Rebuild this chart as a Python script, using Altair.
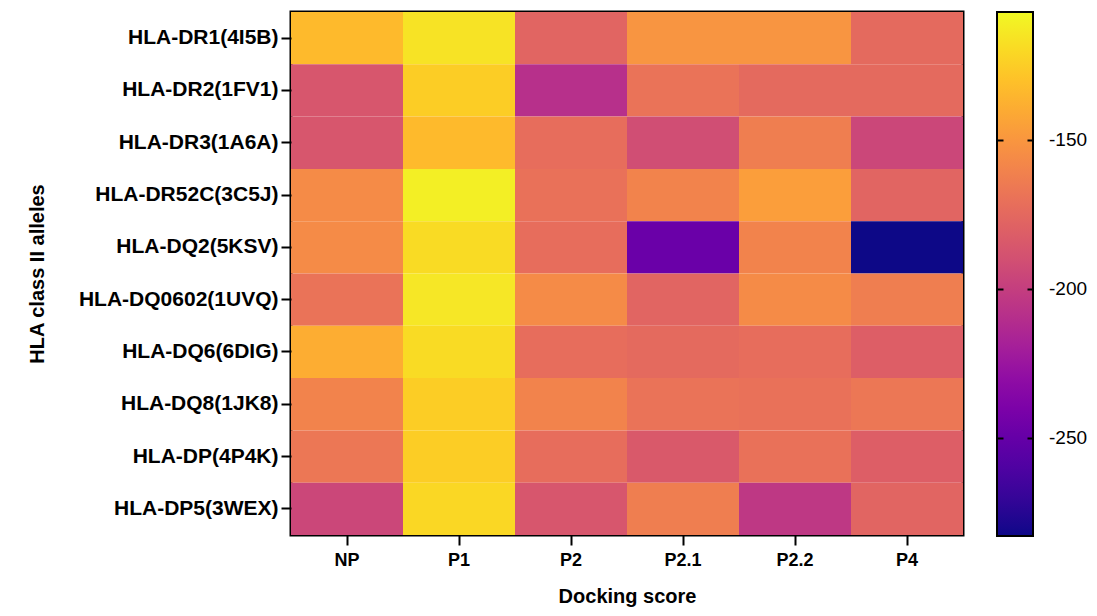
import altair as alt
import pandas as pd

alleles = ["HLA-DR1(4I5B)", "HLA-DR2(1FV1)", "HLA-DR3(1A6A)", "HLA-DR52C(3C5J)",
           "HLA-DQ2(5KSV)", "HLA-DQ0602(1UVQ)", "HLA-DQ6(6DIG)", "HLA-DQ8(1JK8)",
           "HLA-DP(4P4K)", "HLA-DP5(3WEX)"]
peptides = ["NP", "P1", "P2", "P2.1", "P2.2", "P4"]

NP   = [-133, -186, -186, -156, -156, -169, -139, -160, -167, -195]
P1   = [-116, -125, -133, -111, -119, -114, -119, -125, -125, -121]
P2   = [-177, -209, -172, -170, -172, -156, -172, -160, -172, -186]
P2_1 = [-151, -169, -191, -160, -248, -177, -174, -169, -184, -163]
P2_2 = [-151, -174, -163, -146, -160, -156, -172, -170, -170, -204]
P4   = [-174, -174, -195, -177, -283, -163, -181, -167, -181, -177]

legend_ticks = [-250, -200, -150]
color_domain = [-283, -107]

cols = [NP, P1, P2, P2_1, P2_2, P4]
rows = []
for pep, vals in zip(peptides, cols):
    for a, v in zip(alleles, vals):
        rows.append({"peptide": pep, "allele": a, "score": v})
df = pd.DataFrame(rows)
ticks_df = pd.DataFrame({"score": legend_ticks})

FONT = "Liberation Sans"
W, H = 672, 523
GRAD_X = 706
GRAD_W = 36
GRAD_LEN = 524

heat = alt.Chart(df).mark_rect().encode(
    x=alt.X("peptide:N", sort=peptides, title="Docking score",
            scale=alt.Scale(paddingInner=0, paddingOuter=0),
            axis=alt.Axis(labelAngle=0, labelFontSize=18, labelFontWeight="bold",
                          labelColor="black", labelFont=FONT, labelPadding=6,
                          titleFontSize=20, titleFontWeight="bold", titleFont=FONT,
                          titleColor="black", titlePadding=17,
                          domain=False, ticks=True, tickSize=10, tickWidth=2,
                          tickColor="black")),
    y=alt.Y("allele:N", sort=alleles, title="HLA class II alleles",
            scale=alt.Scale(paddingInner=0, paddingOuter=0),
            axis=alt.Axis(labelFontSize=21, labelFontWeight="bold", labelColor="black",
                          labelFont=FONT, labelPadding=3, labelLimit=400,
                          titleFontSize=20, titleFontWeight="bold", titleFont=FONT,
                          titleColor="black", titlePadding=44,
                          domain=False, ticks=True, tickSize=10, tickWidth=2,
                          tickColor="black")),
    color=alt.Color("score:Q",
                    scale=alt.Scale(scheme="plasma", domain=color_domain),
                    legend=alt.Legend(orient="none", legendX=GRAD_X, legendY=0,
                                      direction="vertical", title=None,
                                      gradientLength=GRAD_LEN, gradientThickness=GRAD_W,
                                      gradientStrokeColor="black", gradientStrokeWidth=2,
                                      values=legend_ticks, labelFontSize=19,
                                      labelFont=FONT, labelColor="black",
                                      labelExpr="datum.value < 0 ? '-' + (-datum.value) : '' + datum.value",
                                      labelOffset=16, padding=0)),
)


def tick_layer(orient, offset):
    return alt.Chart(ticks_df).mark_point(opacity=0).encode(
        y=alt.Y("score:Q",
                scale=alt.Scale(domain=color_domain, range=[GRAD_LEN, 0]),
                axis=alt.Axis(orient=orient, offset=offset, values=legend_ticks,
                              labels=False, domain=False, grid=False, title=None,
                              ticks=True, tickSize=6, tickWidth=2, tickColor="black",
                              zindex=2)),
        x=alt.value(GRAD_X),
    )


# ticks on the colour bar's left edge (pointing right) and right edge (pointing left)
left_edge = tick_layer("right", GRAD_X - W)
right_edge = tick_layer("left", -(GRAD_X + GRAD_W))

chart = alt.layer(heat, left_edge, right_edge).resolve_scale(
    y="independent").resolve_axis(y="independent").properties(
    width=W, height=H,
    autosize=alt.AutoSizeParams(type="none"),
    padding={"left": 283, "top": 4, "right": 126, "bottom": 73},
).configure_view(stroke="black", strokeWidth=3)

chart.save("out.html", embed_options={"renderer": "svg", "actions": False})
